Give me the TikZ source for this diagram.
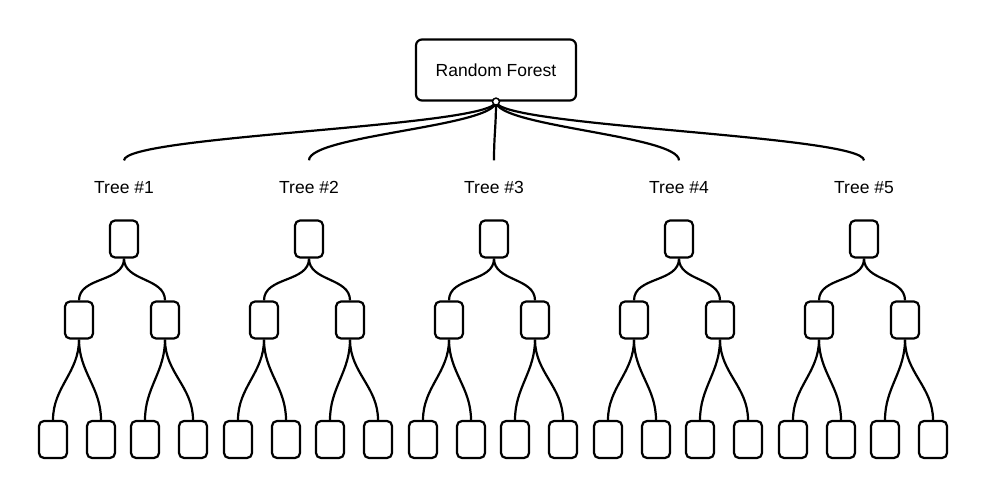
\documentclass[tikz,border=0pt]{standalone}
\usepackage{fontspec}
\setmainfont{Liberation Sans}
\begin{document}
\begin{tikzpicture}[x=1pt, y=1pt, line width=2.2pt,
   box/.style={draw, rounded corners=5pt, minimum width=28pt, minimum height=37pt, inner sep=0pt},
   treename/.style={font=\fontsize{17.5}{20}\selectfont, inner sep=0pt, outer ysep=21pt},
   link/.style={out=-90, in=90}]
   \useasboundingbox (0,0) rectangle (988,500);
   \node [draw, rounded corners=6pt, minimum width=160pt, minimum height=61pt,
          font=\fontsize{17.5}{20}\selectfont] (rf) at (496,430) {Random Forest};

   \foreach \k in {1,...,5} {
      \pgfmathsetmacro{\cx}{124+185*(\k-1)}
      \node [treename] (name\k) at (\cx,312.5) {Tree \#\k};
      \draw (rf.south) to[link, distance=25pt] (name\k.north);

      \node [box] (root\k) at (\cx,261) {};
      \node [box] (left\k) at (\cx-45,180) {};
      \node [box] (right\k) at (\cx+41,180) {};
      \node [box] (leafa\k) at (\cx-71,60.5) {};
      \node [box] (leafb\k) at (\cx-23,60.5) {};
      \node [box] (leafc\k) at (\cx+21,60.5) {};
      \node [box] (leafd\k) at (\cx+69,60.5) {};

      \draw (root\k.south) to[link] (left\k.north);
      \draw (root\k.south) to[link] (right\k.north);
      \draw (left\k.south) to[link] (leafa\k.north);
      \draw (left\k.south) to[link] (leafb\k.north);
      \draw (right\k.south) to[link] (leafc\k.north);
      \draw (right\k.south) to[link] (leafd\k.north);
   }
   \draw [fill=white, line width=1.5pt] (rf.south) circle [radius=3.5];
\end{tikzpicture}
\end{document}
